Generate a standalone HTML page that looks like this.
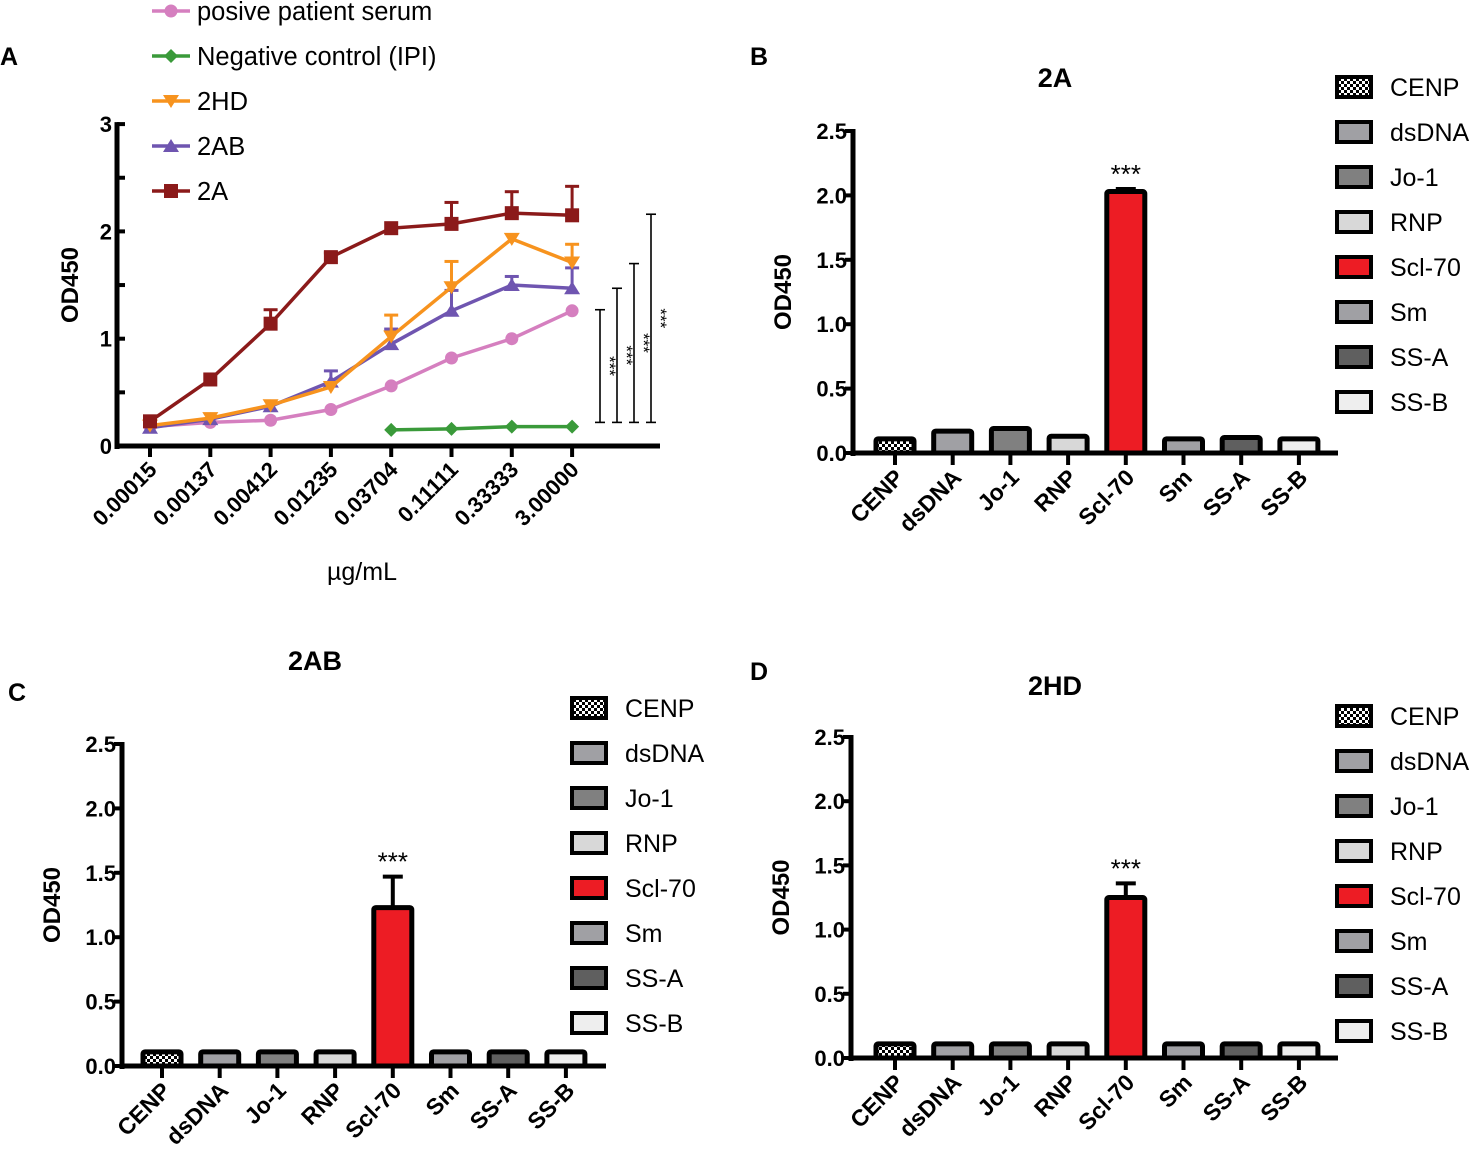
<!DOCTYPE html>
<html><head><meta charset="utf-8"><style>
html,body{margin:0;padding:0;background:#fff;}
svg{display:block;font-family:"Liberation Sans",Arial,sans-serif;}
</style></head><body>
<svg id="fig" width="1473" height="1151" viewBox="0 0 1473 1151">
<defs>
<pattern id="checker" width="6" height="6" patternUnits="userSpaceOnUse">
<rect width="6" height="6" fill="#fff"/><rect width="3" height="3" fill="#000"/><rect x="3" y="3" width="3" height="3" fill="#000"/>
</pattern>
</defs>
</svg>
<script>
// ---------- Panel A data ----------
const concLabels = ["0.00015","0.00137","0.00412","0.01235","0.03704","0.11111","0.33333","3.00000"];
const seriesNames = ["posive patient serum","Negative control (IPI)","2HD","2AB","2A"];
const pinkVals = [0.18,0.22,0.24,0.34,0.56,0.82,1.00,1.26];
const greenVals = [null,null,null,null,0.15,0.16,0.18,0.18];
const hdVals = [0.19,0.26,0.38,0.55,1.02,1.48,1.93,1.71];
const hdErr = [0,0,0,0,0.20,0.24,0,0.17];
const abVals = [0.17,0.25,0.37,0.60,0.95,1.26,1.50,1.47];
const abErr = [0,0,0,0.10,0.14,0.19,0.08,0.19];
const aVals = [0.23,0.62,1.14,1.76,2.03,2.07,2.17,2.15];
const aErr = [0,0,0.13,0.04,0,0.20,0.20,0.27];
const sigTops = [1.27,1.47,1.70,2.16];
const sigBottom = 0.22;
const yTicksA = [0,1,2,3];
// ---------- Bar panel data ----------
const antigens = ["CENP","dsDNA","Jo-1","RNP","Scl-70","Sm","SS-A","SS-B"];
const valsB = [0.11,0.17,0.19,0.13,2.03,0.11,0.12,0.11];
const errB = [0,0,0,0,0.02,0,0,0];
const valsC = [0.11,0.11,0.11,0.11,1.23,0.11,0.11,0.11];
const errC = [0,0,0,0,0.24,0,0,0];
const valsD = [0.11,0.11,0.11,0.11,1.25,0.11,0.11,0.11];
const errD = [0,0,0,0,0.11,0,0,0];
const yTicksBar = [0,0.5,1.0,1.5,2.0,2.5];

const NS="http://www.w3.org/2000/svg";
const svg=document.getElementById('fig');
function mk(tag,attrs,parent,text){const e=document.createElementNS(NS,tag);for(const k in attrs)e.setAttribute(k,attrs[k]);if(text!==undefined)e.textContent=text;(parent||svg).appendChild(e);return e;}

[["A",0,65],["B",750,65],["C",8,701],["D",750,680]].forEach(p=>{
  const t=mk('text',{x:p[1],y:p[2],'font-size':25,'font-weight':'bold'},svg,p[0]);
  
  
});

// ---------- Panel A ----------
const gA=mk('g',{});


const ax0=117, y0A=446, yUnit=107.3, x0A=150, dxA=60.3;
const xA=i=>x0A+i*dxA, yA=v=>y0A-v*yUnit;
mk('line',{x1:ax0,y1:yA(3)-2,x2:ax0,y2:y0A+3,stroke:'#000','stroke-width':5},gA);
mk('line',{x1:ax0-2,y1:y0A,x2:660,y2:y0A,stroke:'#000','stroke-width':5},gA);
for(let v=0;v<=3.001;v+=0.5){mk('line',{x1:ax0,y1:yA(v),x2:ax0+8,y2:yA(v),stroke:'#000','stroke-width':4},gA);}
yTicksA.forEach(v=>{const t=mk('text',{x:ax0-5,y:yA(v)+8,'font-size':22,'font-weight':'bold','text-anchor':'end'},gA,String(v));
 });
concLabels.forEach((l,i)=>{
  mk('line',{x1:xA(i),y1:y0A,x2:xA(i),y2:y0A+11,stroke:'#000','stroke-width':4},gA);
  const t=mk('text',{x:0,y:0,'font-size':22,'font-weight':'bold','text-anchor':'end',transform:`translate(${xA(i)+8},${y0A+25}) rotate(-45)`},gA,l);
  
});
let t=mk('text',{x:362,y:580,'font-size':25,'text-anchor':'middle'},gA,'µg/mL');

t=mk('text',{x:0,y:0,'font-size':24,'font-weight':'bold','text-anchor':'middle',transform:'translate(78,285) rotate(-90)'},gA,'OD450');


function marker(g,type,x,y,c){
  if(type==='circle')return mk('circle',{cx:x,cy:y,r:6.5,fill:c},g);
  if(type==='diamond')return mk('polygon',{points:`${x},${y-7} ${x+7},${y} ${x},${y+7} ${x-7},${y}`,fill:c},g);
  if(type==='down')return mk('polygon',{points:`${x-8},${y-6} ${x+8},${y-6} ${x},${y+7}`,fill:c},g);
  if(type==='up')return mk('polygon',{points:`${x-8},${y+6} ${x+8},${y+6} ${x},${y-7}`,fill:c},g);
  return mk('rect',{x:x-7,y:y-7,width:14,height:14,fill:c},g);
}
const series=[
  {name:'pink',vals:pinkVals,err:null,c:'#d57fbf',m:'circle'},
  {name:'green',vals:greenVals,err:null,c:'#3a9a3a',m:'diamond'},
  {name:'2ab',vals:abVals,err:abErr,c:'#6f55b0',m:'up'},
  {name:'2hd',vals:hdVals,err:hdErr,c:'#f7931e',m:'down'},
  {name:'2a',vals:aVals,err:aErr,c:'#8b1a1a',m:'square'}];
series.forEach(s=>{
  const g=mk('g',{},gA);
  
  
  if(s.err)s.vals.forEach((v,i)=>{if(s.err[i]>0){
    mk('line',{x1:xA(i),y1:yA(v),x2:xA(i),y2:yA(v+s.err[i]),stroke:s.c,'stroke-width':3},g);
    mk('line',{x1:xA(i)-7,y1:yA(v+s.err[i]),x2:xA(i)+7,y2:yA(v+s.err[i]),stroke:s.c,'stroke-width':3},g);}});
  const pts=s.vals.map((v,i)=>v===null?null:`${xA(i)},${yA(v)}`).filter(p=>p);
  mk('polyline',{points:pts.join(' '),fill:'none',stroke:s.c,'stroke-width':3.5},g);
  s.vals.forEach((v,i)=>{if(v!==null){const m=marker(g,s.m,xA(i),yA(v),s.c);
    }});
});
sigTops.forEach((top,k)=>{
  const x=600+k*17;
  const g=mk('g',{},gA);
  
  
  mk('line',{x1:x,y1:yA(sigBottom),x2:x,y2:yA(top),stroke:'#000','stroke-width':1.6},g);
  mk('line',{x1:x-5,y1:yA(sigBottom),x2:x+5,y2:yA(sigBottom),stroke:'#000','stroke-width':1.6},g);
  mk('line',{x1:x-5,y1:yA(top),x2:x+5,y2:yA(top),stroke:'#000','stroke-width':1.6},g);
  const my=(yA(top)+yA(sigBottom))/2;
  mk('text',{x:0,y:0,'font-size':17,'text-anchor':'middle',transform:`translate(${x+4},${my}) rotate(90)`},g,'***');
});
const legColors=['#d57fbf','#3a9a3a','#f7931e','#6f55b0','#8b1a1a'];
const legMarks=['circle','diamond','down','up','square'];
seriesNames.forEach((n,i)=>{
  const y=11+i*45;
  const g=mk('g',{},gA);
  
  
  mk('line',{x1:152,y1:y,x2:190,y2:y,stroke:legColors[i],'stroke-width':3.5},g);
  marker(g,legMarks[i],171,y,legColors[i]);
  mk('text',{x:197,y:y+9,'font-size':25.5},g,n);
});

// ---------- Bar panels ----------
const fills=['url(#checker)','#a0a0a4','#808080','#d8d8d8','#ed1c24','#a0a0a4','#5f5f5f','#eeeeee'];
function barPanel(name,title,titleX,titleY,axX,y0,y25,x0,xEnd,vals,errs,legX,legY0){
  const g=mk('g',{});
  
  
  const unit=(y0-y25)/2.5, y=v=>y0-v*unit, dx=57.7, xc=i=>x0+i*dx;
  let tt=mk('text',{x:titleX,y:titleY,'font-size':27,'font-weight':'bold','text-anchor':'middle'},g,title);
  
  tt=mk('text',{x:0,y:0,'font-size':24,'font-weight':'bold','text-anchor':'middle',transform:`translate(${axX-62},${y(1.25)}) rotate(-90)`},g,'OD450');
  
  yTicksBar.forEach(v=>{
    mk('line',{x1:axX-8,y1:y(v),x2:axX,y2:y(v),stroke:'#000','stroke-width':4},g);
    const l=mk('text',{x:axX-6,y:y(v)+8,'font-size':22,'font-weight':'bold','text-anchor':'end'},g,v.toFixed(1));
    
  });
  vals.forEach((v,i)=>{
    const b=mk('rect',{x:xc(i)-19,y:y(v),width:38,height:y0-y(v),fill:fills[i],stroke:'#000','stroke-width':5,rx:2},g);
    
    
    if(errs[i]>0){
      mk('line',{x1:xc(i),y1:y(v),x2:xc(i),y2:y(v+errs[i]),stroke:'#000','stroke-width':4},g);
      mk('line',{x1:xc(i)-10,y1:y(v+errs[i]),x2:xc(i)+10,y2:y(v+errs[i]),stroke:'#000','stroke-width':4},g);
      mk('text',{x:xc(i),y:y(v+errs[i])-6,'font-size':26,'text-anchor':'middle'},g,'***');
    }
    mk('line',{x1:xc(i),y1:y0,x2:xc(i),y2:y0+12,stroke:'#000','stroke-width':4},g);
    const l=mk('text',{x:0,y:0,'font-size':23,'font-weight':'bold','text-anchor':'end',transform:`translate(${xc(i)+10},${y0+26}) rotate(-45)`},g,antigens[i]);
    
  });
  mk('line',{x1:axX,y1:y25-2,x2:axX,y2:y0+3,stroke:'#000','stroke-width':5},g);
  mk('line',{x1:axX-2,y1:y0,x2:xEnd,y2:y0,stroke:'#000','stroke-width':5},g);
  antigens.forEach((a,i)=>{
    const ly=legY0+i*45;
    const e=mk('g',{},g);
    
    
    mk('rect',{x:legX,y:ly-10,width:34,height:20,fill:fills[i],stroke:'#000','stroke-width':4},e);
    mk('text',{x:legX+53,y:ly+9,'font-size':25},e,a);
  });
}
barPanel('panel-b-bar-chart','2A',1055,87,853,453,131,895,1338,valsB,errB,1337,87);
barPanel('panel-c-bar-chart','2AB',315,670,122,1066,744,162,606,valsC,errC,572,708);
barPanel('panel-d-bar-chart','2HD',1055,695,851,1058,737,895,1338,valsD,errD,1337,716);
</script>
</body></html>
